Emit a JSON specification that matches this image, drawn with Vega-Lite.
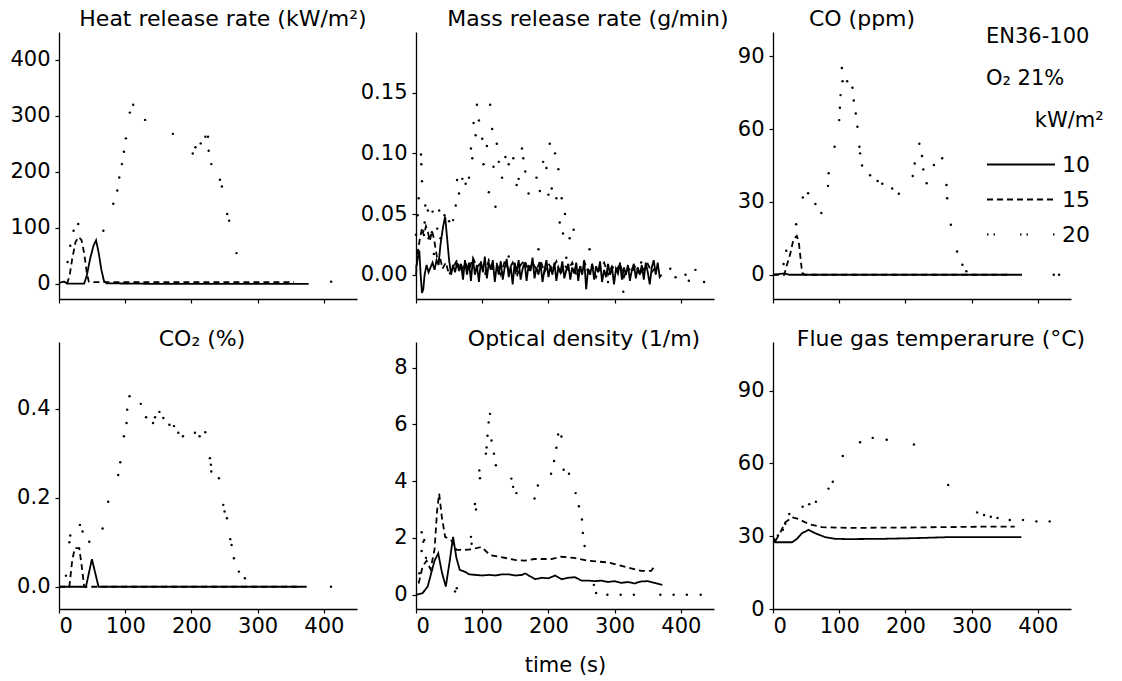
{
"$schema":"https://vega.github.io/schema/vega-lite/v6.json",
"background":"white",
"padding":{"left":9,"top":8,"right":0,"bottom":0},
"bounds":"flush",
"columns":3,
"spacing":{"row":43,"column":59},
"resolve":{"scale":{"x":"independent","y":"independent","strokeDash":"shared"}},
"data":{"values":[
{"p":"hrr","s":"10","t":0,"v":2},{"p":"hrr","s":"10","t":8,"v":4},{"p":"hrr","s":"10","t":12,"v":0.5},{"p":"hrr","s":"10","t":38,"v":0.5},{"p":"hrr","s":"10","t":42,"v":15},{"p":"hrr","s":"10","t":47,"v":45},{"p":"hrr","s":"10","t":52,"v":68},{"p":"hrr","s":"10","t":56,"v":78},{"p":"hrr","s":"10","t":60,"v":55},{"p":"hrr","s":"10","t":64,"v":25},{"p":"hrr","s":"10","t":68,"v":5},{"p":"hrr","s":"10","t":72,"v":1},{"p":"hrr","s":"10","t":150,"v":0},{"p":"hrr","s":"10","t":250,"v":0},{"p":"hrr","s":"10","t":377,"v":0},
{"p":"hrr","s":"15","t":12,"v":0},{"p":"hrr","s":"15","t":16,"v":15},{"p":"hrr","s":"15","t":20,"v":45},{"p":"hrr","s":"15","t":25,"v":75},{"p":"hrr","s":"15","t":30,"v":84},{"p":"hrr","s":"15","t":34,"v":78},{"p":"hrr","s":"15","t":38,"v":55},{"p":"hrr","s":"15","t":42,"v":20},{"p":"hrr","s":"15","t":45,"v":4},{"p":"hrr","s":"15","t":48,"v":3},{"p":"hrr","s":"15","t":150,"v":3},{"p":"hrr","s":"15","t":250,"v":3},{"p":"hrr","s":"15","t":355,"v":3},
{"p":"hrr","s":"20","t":13,"v":39},{"p":"hrr","s":"20","t":17,"v":68},{"p":"hrr","s":"20","t":22,"v":95},{"p":"hrr","s":"20","t":29,"v":107},{"p":"hrr","s":"20","t":67,"v":95},{"p":"hrr","s":"20","t":82,"v":143},{"p":"hrr","s":"20","t":88,"v":167},{"p":"hrr","s":"20","t":91,"v":190},{"p":"hrr","s":"20","t":95,"v":214},{"p":"hrr","s":"20","t":98,"v":236},{"p":"hrr","s":"20","t":101,"v":260},{"p":"hrr","s":"20","t":107,"v":306},{"p":"hrr","s":"20","t":112,"v":320},{"p":"hrr","s":"20","t":130,"v":293},{"p":"hrr","s":"20","t":172,"v":268},{"p":"hrr","s":"20","t":202,"v":233},{"p":"hrr","s":"20","t":206,"v":244},{"p":"hrr","s":"20","t":214,"v":251},{"p":"hrr","s":"20","t":221,"v":263},{"p":"hrr","s":"20","t":225,"v":263},{"p":"hrr","s":"20","t":226,"v":238},{"p":"hrr","s":"20","t":230,"v":214},{"p":"hrr","s":"20","t":243,"v":186},{"p":"hrr","s":"20","t":246,"v":174},{"p":"hrr","s":"20","t":254,"v":125},{"p":"hrr","s":"20","t":257,"v":113},{"p":"hrr","s":"20","t":268,"v":55},{"p":"hrr","s":"20","t":411,"v":4},

{"p":"mrr","s":"10","t":0,"v":0.005},{"p":"mrr","s":"10","t":3,"v":0.015},{"p":"mrr","s":"10","t":5,"v":0.02},{"p":"mrr","s":"10","t":7,"v":0.0},{"p":"mrr","s":"10","t":9,"v":-0.015},{"p":"mrr","s":"10","t":11,"v":-0.012},{"p":"mrr","s":"10","t":13,"v":0.0},{"p":"mrr","s":"10","t":16,"v":0.008},{"p":"mrr","s":"10","t":19,"v":0.002},{"p":"mrr","s":"10","t":22,"v":0.006},{"p":"mrr","s":"10","t":25,"v":0.01},{"p":"mrr","s":"10","t":28,"v":0.004},{"p":"mrr","s":"10","t":31,"v":0.012},{"p":"mrr","s":"10","t":34,"v":0.008},{"p":"mrr","s":"10","t":37,"v":0.025},{"p":"mrr","s":"10","t":41,"v":0.04},{"p":"mrr","s":"10","t":44,"v":0.048},{"p":"mrr","s":"10","t":47,"v":0.03},{"p":"mrr","s":"10","t":50,"v":0.012},{"p":"mrr","s":"10","t":53,"v":0.0},{"p":"mrr","s":"10","t":56,"v":0.008},{"p":"mrr","s":"10","t":59,"v":0.002},{"p":"mrr","s":"10","t":62,"v":0.01},{"p":"mrr","s":"10","t":65,"v":0.003},{"p":"mrr","s":"10","t":68,"v":0.009},{"p":"mrr","s":"10","t":71,"v":-0.004},{"p":"mrr","s":"10","t":74,"v":0.012},{"p":"mrr","s":"10","t":77,"v":0.0},{"p":"mrr","s":"10","t":80,"v":0.01},{"p":"mrr","s":"10","t":83,"v":-0.005},{"p":"mrr","s":"10","t":86,"v":0.013},{"p":"mrr","s":"10","t":89,"v":0.0},{"p":"mrr","s":"10","t":92,"v":0.008},{"p":"mrr","s":"10","t":95,"v":-0.006},{"p":"mrr","s":"10","t":98,"v":0.011},{"p":"mrr","s":"10","t":101,"v":0.002},{"p":"mrr","s":"10","t":104,"v":0.015},{"p":"mrr","s":"10","t":107,"v":-0.003},{"p":"mrr","s":"10","t":110,"v":0.01},{"p":"mrr","s":"10","t":113,"v":0.004},{"p":"mrr","s":"10","t":116,"v":0.012},{"p":"mrr","s":"10","t":119,"v":-0.006},{"p":"mrr","s":"10","t":122,"v":0.008},{"p":"mrr","s":"10","t":125,"v":0.0},{"p":"mrr","s":"10","t":128,"v":0.011},{"p":"mrr","s":"10","t":131,"v":-0.004},{"p":"mrr","s":"10","t":134,"v":0.006},{"p":"mrr","s":"10","t":137,"v":0.013},{"p":"mrr","s":"10","t":140,"v":-0.002},{"p":"mrr","s":"10","t":143,"v":0.007},{"p":"mrr","s":"10","t":146,"v":-0.008},{"p":"mrr","s":"10","t":149,"v":0.01},{"p":"mrr","s":"10","t":152,"v":0.002},{"p":"mrr","s":"10","t":155,"v":0.012},{"p":"mrr","s":"10","t":158,"v":-0.004},{"p":"mrr","s":"10","t":161,"v":0.005},{"p":"mrr","s":"10","t":164,"v":0.01},{"p":"mrr","s":"10","t":167,"v":-0.005},{"p":"mrr","s":"10","t":170,"v":0.008},{"p":"mrr","s":"10","t":173,"v":0.003},{"p":"mrr","s":"10","t":176,"v":0.014},{"p":"mrr","s":"10","t":179,"v":-0.003},{"p":"mrr","s":"10","t":182,"v":0.006},{"p":"mrr","s":"10","t":185,"v":0.0},{"p":"mrr","s":"10","t":188,"v":0.01},{"p":"mrr","s":"10","t":191,"v":-0.006},{"p":"mrr","s":"10","t":194,"v":0.004},{"p":"mrr","s":"10","t":197,"v":0.012},{"p":"mrr","s":"10","t":200,"v":-0.002},{"p":"mrr","s":"10","t":203,"v":0.007},{"p":"mrr","s":"10","t":206,"v":0.0},{"p":"mrr","s":"10","t":209,"v":0.01},{"p":"mrr","s":"10","t":212,"v":-0.005},{"p":"mrr","s":"10","t":215,"v":0.006},{"p":"mrr","s":"10","t":218,"v":0.002},{"p":"mrr","s":"10","t":221,"v":0.011},{"p":"mrr","s":"10","t":224,"v":-0.003},{"p":"mrr","s":"10","t":227,"v":0.004},{"p":"mrr","s":"10","t":230,"v":0.009},{"p":"mrr","s":"10","t":233,"v":-0.004},{"p":"mrr","s":"10","t":236,"v":0.006},{"p":"mrr","s":"10","t":239,"v":0.001},{"p":"mrr","s":"10","t":242,"v":0.01},{"p":"mrr","s":"10","t":245,"v":-0.005},{"p":"mrr","s":"10","t":248,"v":0.007},{"p":"mrr","s":"10","t":251,"v":0.0},{"p":"mrr","s":"10","t":254,"v":0.012},{"p":"mrr","s":"10","t":257,"v":-0.012},{"p":"mrr","s":"10","t":260,"v":0.005},{"p":"mrr","s":"10","t":263,"v":0.0},{"p":"mrr","s":"10","t":266,"v":0.009},{"p":"mrr","s":"10","t":269,"v":-0.004},{"p":"mrr","s":"10","t":272,"v":0.007},{"p":"mrr","s":"10","t":275,"v":0.002},{"p":"mrr","s":"10","t":278,"v":0.011},{"p":"mrr","s":"10","t":281,"v":-0.006},{"p":"mrr","s":"10","t":284,"v":0.004},{"p":"mrr","s":"10","t":287,"v":-0.002},{"p":"mrr","s":"10","t":290,"v":0.009},{"p":"mrr","s":"10","t":293,"v":0.0},{"p":"mrr","s":"10","t":296,"v":0.006},{"p":"mrr","s":"10","t":299,"v":-0.008},{"p":"mrr","s":"10","t":302,"v":0.005},{"p":"mrr","s":"10","t":305,"v":0.001},{"p":"mrr","s":"10","t":308,"v":0.01},{"p":"mrr","s":"10","t":311,"v":-0.004},{"p":"mrr","s":"10","t":314,"v":0.006},{"p":"mrr","s":"10","t":317,"v":0.0},{"p":"mrr","s":"10","t":320,"v":0.008},{"p":"mrr","s":"10","t":323,"v":-0.005},{"p":"mrr","s":"10","t":326,"v":0.004},{"p":"mrr","s":"10","t":329,"v":0.009},{"p":"mrr","s":"10","t":332,"v":-0.003},{"p":"mrr","s":"10","t":335,"v":0.006},{"p":"mrr","s":"10","t":338,"v":0.0},{"p":"mrr","s":"10","t":341,"v":0.008},{"p":"mrr","s":"10","t":344,"v":-0.004},{"p":"mrr","s":"10","t":347,"v":0.01},{"p":"mrr","s":"10","t":350,"v":0.002},{"p":"mrr","s":"10","t":353,"v":-0.008},{"p":"mrr","s":"10","t":356,"v":0.006},{"p":"mrr","s":"10","t":359,"v":0.012},{"p":"mrr","s":"10","t":362,"v":0.0},{"p":"mrr","s":"10","t":365,"v":0.01},{"p":"mrr","s":"10","t":368,"v":-0.002},{"p":"mrr","s":"10","t":371,"v":0.0},
{"p":"mrr","s":"15","t":0,"v":0.0},{"p":"mrr","s":"15","t":3,"v":0.02},{"p":"mrr","s":"15","t":6,"v":0.03},{"p":"mrr","s":"15","t":9,"v":0.038},{"p":"mrr","s":"15","t":12,"v":0.032},{"p":"mrr","s":"15","t":15,"v":0.04},{"p":"mrr","s":"15","t":18,"v":0.035},{"p":"mrr","s":"15","t":21,"v":0.028},{"p":"mrr","s":"15","t":24,"v":0.036},{"p":"mrr","s":"15","t":27,"v":0.03},{"p":"mrr","s":"15","t":30,"v":0.02},{"p":"mrr","s":"15","t":33,"v":0.01},{"p":"mrr","s":"15","t":36,"v":0.015},{"p":"mrr","s":"15","t":40,"v":0.005},{"p":"mrr","s":"15","t":45,"v":0.01},{"p":"mrr","s":"15","t":50,"v":0.0},{"p":"mrr","s":"15","t":56,"v":0.006},{"p":"mrr","s":"15","t":62,"v":0.012},{"p":"mrr","s":"15","t":68,"v":0.002},{"p":"mrr","s":"15","t":74,"v":0.01},{"p":"mrr","s":"15","t":80,"v":0.004},{"p":"mrr","s":"15","t":86,"v":0.014},{"p":"mrr","s":"15","t":92,"v":0.006},{"p":"mrr","s":"15","t":98,"v":0.01},{"p":"mrr","s":"15","t":104,"v":0.0},{"p":"mrr","s":"15","t":110,"v":0.012},{"p":"mrr","s":"15","t":116,"v":0.005},{"p":"mrr","s":"15","t":122,"v":0.009},{"p":"mrr","s":"15","t":128,"v":0.0},{"p":"mrr","s":"15","t":134,"v":0.011},{"p":"mrr","s":"15","t":140,"v":0.004},{"p":"mrr","s":"15","t":146,"v":0.01},{"p":"mrr","s":"15","t":152,"v":-0.002},{"p":"mrr","s":"15","t":158,"v":0.008},{"p":"mrr","s":"15","t":164,"v":0.012},{"p":"mrr","s":"15","t":170,"v":0.003},{"p":"mrr","s":"15","t":176,"v":0.01},{"p":"mrr","s":"15","t":182,"v":0.004},{"p":"mrr","s":"15","t":188,"v":0.012},{"p":"mrr","s":"15","t":194,"v":0.002},{"p":"mrr","s":"15","t":200,"v":0.009},{"p":"mrr","s":"15","t":206,"v":0.005},{"p":"mrr","s":"15","t":212,"v":0.011},{"p":"mrr","s":"15","t":218,"v":0.0},{"p":"mrr","s":"15","t":224,"v":0.008},{"p":"mrr","s":"15","t":230,"v":0.004},{"p":"mrr","s":"15","t":236,"v":0.01},{"p":"mrr","s":"15","t":242,"v":0.0},{"p":"mrr","s":"15","t":248,"v":0.006},{"p":"mrr","s":"15","t":254,"v":0.011},{"p":"mrr","s":"15","t":260,"v":0.002},{"p":"mrr","s":"15","t":266,"v":0.008},{"p":"mrr","s":"15","t":272,"v":-0.002},{"p":"mrr","s":"15","t":278,"v":0.006},{"p":"mrr","s":"15","t":284,"v":0.01},{"p":"mrr","s":"15","t":290,"v":0.0},{"p":"mrr","s":"15","t":296,"v":0.007},{"p":"mrr","s":"15","t":302,"v":0.003},{"p":"mrr","s":"15","t":308,"v":0.009},{"p":"mrr","s":"15","t":314,"v":-0.002},{"p":"mrr","s":"15","t":320,"v":0.006},{"p":"mrr","s":"15","t":326,"v":0.002},{"p":"mrr","s":"15","t":332,"v":0.008},{"p":"mrr","s":"15","t":338,"v":0.0},{"p":"mrr","s":"15","t":344,"v":0.005},{"p":"mrr","s":"15","t":350,"v":0.009},{"p":"mrr","s":"15","t":356,"v":0.002},{"p":"mrr","s":"15","t":360,"v":0.005},
{"p":"mrr","s":"20","t":0,"v":0.033},{"p":"mrr","s":"20","t":2.5,"v":0.049},{"p":"mrr","s":"20","t":4,"v":0.063},{"p":"mrr","s":"20","t":7.5,"v":0.099},{"p":"mrr","s":"20","t":8,"v":0.091},{"p":"mrr","s":"20","t":9,"v":0.077},{"p":"mrr","s":"20","t":11,"v":0.036},{"p":"mrr","s":"20","t":13,"v":0.043},{"p":"mrr","s":"20","t":14,"v":0.057},{"p":"mrr","s":"20","t":18,"v":0.053},{"p":"mrr","s":"20","t":19,"v":0.03},{"p":"mrr","s":"20","t":24,"v":0.035},{"p":"mrr","s":"20","t":25,"v":0.052},{"p":"mrr","s":"20","t":27,"v":0.017},{"p":"mrr","s":"20","t":32,"v":0.038},{"p":"mrr","s":"20","t":34,"v":0.01},{"p":"mrr","s":"20","t":35,"v":0.053},{"p":"mrr","s":"20","t":37,"v":0.03},{"p":"mrr","s":"20","t":43,"v":0.049},{"p":"mrr","s":"20","t":50,"v":0.044},{"p":"mrr","s":"20","t":56,"v":0.045},{"p":"mrr","s":"20","t":60,"v":0.057},{"p":"mrr","s":"20","t":62,"v":0.078},{"p":"mrr","s":"20","t":65,"v":0.067},{"p":"mrr","s":"20","t":70,"v":0.079},{"p":"mrr","s":"20","t":75,"v":0.075},{"p":"mrr","s":"20","t":80,"v":0.08},{"p":"mrr","s":"20","t":83,"v":0.104},{"p":"mrr","s":"20","t":85,"v":0.096},{"p":"mrr","s":"20","t":87,"v":0.125},{"p":"mrr","s":"20","t":90,"v":0.115},{"p":"mrr","s":"20","t":92,"v":0.14},{"p":"mrr","s":"20","t":95,"v":0.127},{"p":"mrr","s":"20","t":100,"v":0.112},{"p":"mrr","s":"20","t":102,"v":0.091},{"p":"mrr","s":"20","t":107,"v":0.106},{"p":"mrr","s":"20","t":110,"v":0.068},{"p":"mrr","s":"20","t":112,"v":0.14},{"p":"mrr","s":"20","t":115,"v":0.12},{"p":"mrr","s":"20","t":117,"v":0.089},{"p":"mrr","s":"20","t":120,"v":0.056},{"p":"mrr","s":"20","t":122,"v":0.108},{"p":"mrr","s":"20","t":125,"v":0.093},{"p":"mrr","s":"20","t":130,"v":0.08},{"p":"mrr","s":"20","t":135,"v":0.097},{"p":"mrr","s":"20","t":140,"v":0.091},{"p":"mrr","s":"20","t":147,"v":0.096},{"p":"mrr","s":"20","t":152,"v":0.074},{"p":"mrr","s":"20","t":155,"v":0.079},{"p":"mrr","s":"20","t":160,"v":0.104},{"p":"mrr","s":"20","t":162,"v":0.096},{"p":"mrr","s":"20","t":165,"v":0.085},{"p":"mrr","s":"20","t":170,"v":0.067},{"p":"mrr","s":"20","t":182,"v":0.08},{"p":"mrr","s":"20","t":187,"v":0.069},{"p":"mrr","s":"20","t":192,"v":0.093},{"p":"mrr","s":"20","t":197,"v":0.088},{"p":"mrr","s":"20","t":200,"v":0.066},{"p":"mrr","s":"20","t":202,"v":0.108},{"p":"mrr","s":"20","t":205,"v":0.071},{"p":"mrr","s":"20","t":210,"v":0.1},{"p":"mrr","s":"20","t":212,"v":0.063},{"p":"mrr","s":"20","t":215,"v":0.087},{"p":"mrr","s":"20","t":217,"v":0.043},{"p":"mrr","s":"20","t":220,"v":0.063},{"p":"mrr","s":"20","t":222,"v":0.034},{"p":"mrr","s":"20","t":225,"v":0.05},{"p":"mrr","s":"20","t":232,"v":0.03},{"p":"mrr","s":"20","t":238,"v":0.037},{"p":"mrr","s":"20","t":185,"v":0.021},{"p":"mrr","s":"20","t":262,"v":0.021},{"p":"mrr","s":"20","t":313,"v":-0.014},{"p":"mrr","s":"20","t":227,"v":0.014},{"p":"mrr","s":"20","t":384,"v":0.005},{"p":"mrr","s":"20","t":392,"v":-0.002},{"p":"mrr","s":"20","t":407,"v":0.0},{"p":"mrr","s":"20","t":412,"v":-0.005},{"p":"mrr","s":"20","t":422,"v":0.004},{"p":"mrr","s":"20","t":435,"v":-0.006},{"p":"mrr","s":"20","t":140,"v":0.015},{"p":"mrr","s":"20","t":290,"v":-0.006},{"p":"mrr","s":"20","t":340,"v":0.01},

{"p":"co","s":"10","t":0,"v":0},{"p":"co","s":"10","t":16,"v":0.5},{"p":"co","s":"10","t":25,"v":0},{"p":"co","s":"10","t":376,"v":0},
{"p":"co","s":"15","t":0,"v":0},{"p":"co","s":"15","t":17,"v":0},{"p":"co","s":"15","t":21,"v":4},{"p":"co","s":"15","t":26,"v":8.5},{"p":"co","s":"15","t":31,"v":14.7},{"p":"co","s":"15","t":36,"v":16},{"p":"co","s":"15","t":39,"v":13.3},{"p":"co","s":"15","t":44,"v":0.8},{"p":"co","s":"15","t":48,"v":0},{"p":"co","s":"15","t":360,"v":0},
{"p":"co","s":"20","t":16,"v":4.4},{"p":"co","s":"20","t":20,"v":9.9},{"p":"co","s":"20","t":35,"v":20.8},{"p":"co","s":"20","t":45,"v":31.8},{"p":"co","s":"20","t":53,"v":33.6},{"p":"co","s":"20","t":64,"v":29.1},{"p":"co","s":"20","t":73,"v":25.4},{"p":"co","s":"20","t":83,"v":36.6},{"p":"co","s":"20","t":84,"v":41.8},{"p":"co","s":"20","t":93,"v":52.7},{"p":"co","s":"20","t":100,"v":63.7},{"p":"co","s":"20","t":101,"v":68.8},{"p":"co","s":"20","t":102,"v":74},{"p":"co","s":"20","t":104,"v":85.2},{"p":"co","s":"20","t":105,"v":79.7},{"p":"co","s":"20","t":112,"v":79.7},{"p":"co","s":"20","t":120,"v":77},{"p":"co","s":"20","t":122,"v":71.8},{"p":"co","s":"20","t":125,"v":66.4},{"p":"co","s":"20","t":127.5,"v":61},{"p":"co","s":"20","t":130.5,"v":52.7},{"p":"co","s":"20","t":131.5,"v":50},{"p":"co","s":"20","t":134.5,"v":45},{"p":"co","s":"20","t":146.6,"v":41},{"p":"co","s":"20","t":158,"v":38.6},{"p":"co","s":"20","t":165,"v":37.5},{"p":"co","s":"20","t":180,"v":35.5},{"p":"co","s":"20","t":190,"v":33.4},{"p":"co","s":"20","t":211,"v":40.7},{"p":"co","s":"20","t":214,"v":45.8},{"p":"co","s":"20","t":221,"v":54},{"p":"co","s":"20","t":225,"v":48.9},{"p":"co","s":"20","t":227,"v":43.4},{"p":"co","s":"20","t":232,"v":37.7},{"p":"co","s":"20","t":243,"v":45.2},{"p":"co","s":"20","t":255.5,"v":48},{"p":"co","s":"20","t":262,"v":37},{"p":"co","s":"20","t":263,"v":31.5},{"p":"co","s":"20","t":268.6,"v":20.6},{"p":"co","s":"20","t":278,"v":9.6},{"p":"co","s":"20","t":286,"v":4.1},{"p":"co","s":"20","t":292,"v":1.4},{"p":"co","s":"20","t":424,"v":0},{"p":"co","s":"20","t":432,"v":0},

{"p":"co2","s":"10","t":0,"v":0},{"p":"co2","s":"10","t":40.7,"v":0},{"p":"co2","s":"10","t":49.7,"v":0.062},{"p":"co2","s":"10","t":59.7,"v":0},{"p":"co2","s":"10","t":374,"v":0},
{"p":"co2","s":"15","t":0,"v":0},{"p":"co2","s":"15","t":15.6,"v":0},{"p":"co2","s":"15","t":20,"v":0.06},{"p":"co2","s":"15","t":24,"v":0.087},{"p":"co2","s":"15","t":30.6,"v":0.087},{"p":"co2","s":"15","t":34,"v":0.05},{"p":"co2","s":"15","t":38,"v":0},{"p":"co2","s":"15","t":360,"v":0},
{"p":"co2","s":"20","t":10.5,"v":0.025},{"p":"co2","s":"20","t":15.6,"v":0.1},{"p":"co2","s":"20","t":17,"v":0.115},{"p":"co2","s":"20","t":31.6,"v":0.139},{"p":"co2","s":"20","t":35.6,"v":0.124},{"p":"co2","s":"20","t":45.7,"v":0.101},{"p":"co2","s":"20","t":65.8,"v":0.131},{"p":"co2","s":"20","t":74.3,"v":0.191},{"p":"co2","s":"20","t":89.4,"v":0.251},{"p":"co2","s":"20","t":92.5,"v":0.28},{"p":"co2","s":"20","t":98,"v":0.338},{"p":"co2","s":"20","t":102,"v":0.368},{"p":"co2","s":"20","t":103,"v":0.398},{"p":"co2","s":"20","t":106.5,"v":0.428},{"p":"co2","s":"20","t":123.5,"v":0.411},{"p":"co2","s":"20","t":131.5,"v":0.381},{"p":"co2","s":"20","t":142,"v":0.368},{"p":"co2","s":"20","t":145,"v":0.381},{"p":"co2","s":"20","t":151.6,"v":0.393},{"p":"co2","s":"20","t":157.6,"v":0.379},{"p":"co2","s":"20","t":166.7,"v":0.364},{"p":"co2","s":"20","t":173.7,"v":0.361},{"p":"co2","s":"20","t":180.2,"v":0.346},{"p":"co2","s":"20","t":187.2,"v":0.338},{"p":"co2","s":"20","t":205.3,"v":0.346},{"p":"co2","s":"20","t":212.3,"v":0.338},{"p":"co2","s":"20","t":220.9,"v":0.347},{"p":"co2","s":"20","t":227.9,"v":0.289},{"p":"co2","s":"20","t":229.4,"v":0.274},{"p":"co2","s":"20","t":230,"v":0.259},{"p":"co2","s":"20","t":241.5,"v":0.244},{"p":"co2","s":"20","t":248,"v":0.184},{"p":"co2","s":"20","t":250,"v":0.169},{"p":"co2","s":"20","t":253.6,"v":0.154},{"p":"co2","s":"20","t":258.6,"v":0.107},{"p":"co2","s":"20","t":260.6,"v":0.094},{"p":"co2","s":"20","t":264.1,"v":0.064},{"p":"co2","s":"20","t":271.7,"v":0.034},{"p":"co2","s":"20","t":280.7,"v":0.019},{"p":"co2","s":"20","t":410.7,"v":0},

{"p":"od","s":"10","t":0,"v":0},{"p":"od","s":"10","t":10,"v":0.06},{"p":"od","s":"10","t":17.6,"v":0.29},{"p":"od","s":"10","t":21.6,"v":0.64},{"p":"od","s":"10","t":28,"v":1.2},{"p":"od","s":"10","t":33.6,"v":1.46},{"p":"od","s":"10","t":39,"v":0.8},{"p":"od","s":"10","t":45,"v":0.29},{"p":"od","s":"10","t":51,"v":1.2},{"p":"od","s":"10","t":56,"v":2.04},{"p":"od","s":"10","t":61,"v":1.3},{"p":"od","s":"10","t":66,"v":0.88},{"p":"od","s":"10","t":75,"v":0.8},{"p":"od","s":"10","t":80,"v":0.72},{"p":"od","s":"10","t":90,"v":0.7},{"p":"od","s":"10","t":100,"v":0.68},{"p":"od","s":"10","t":110,"v":0.7},{"p":"od","s":"10","t":120,"v":0.68},{"p":"od","s":"10","t":130,"v":0.72},{"p":"od","s":"10","t":140,"v":0.72},{"p":"od","s":"10","t":150,"v":0.68},{"p":"od","s":"10","t":160,"v":0.7},{"p":"od","s":"10","t":165,"v":0.75},{"p":"od","s":"10","t":170,"v":0.68},{"p":"od","s":"10","t":180,"v":0.55},{"p":"od","s":"10","t":190,"v":0.6},{"p":"od","s":"10","t":200,"v":0.58},{"p":"od","s":"10","t":210,"v":0.68},{"p":"od","s":"10","t":220,"v":0.55},{"p":"od","s":"10","t":230,"v":0.6},{"p":"od","s":"10","t":240,"v":0.62},{"p":"od","s":"10","t":250,"v":0.5},{"p":"od","s":"10","t":260,"v":0.5},{"p":"od","s":"10","t":270,"v":0.48},{"p":"od","s":"10","t":280,"v":0.5},{"p":"od","s":"10","t":290,"v":0.45},{"p":"od","s":"10","t":300,"v":0.48},{"p":"od","s":"10","t":310,"v":0.42},{"p":"od","s":"10","t":320,"v":0.45},{"p":"od","s":"10","t":330,"v":0.4},{"p":"od","s":"10","t":340,"v":0.47},{"p":"od","s":"10","t":350,"v":0.48},{"p":"od","s":"10","t":360,"v":0.42},{"p":"od","s":"10","t":372,"v":0.35},
{"p":"od","s":"15","t":4,"v":0.4},{"p":"od","s":"15","t":10,"v":1.0},{"p":"od","s":"15","t":16,"v":1.2},{"p":"od","s":"15","t":22,"v":0.9},{"p":"od","s":"15","t":28,"v":1.6},{"p":"od","s":"15","t":32,"v":3.0},{"p":"od","s":"15","t":35,"v":3.56},{"p":"od","s":"15","t":39,"v":2.74},{"p":"od","s":"15","t":44,"v":2.04},{"p":"od","s":"15","t":54,"v":1.9},{"p":"od","s":"15","t":61.5,"v":1.58},{"p":"od","s":"15","t":71.5,"v":1.58},{"p":"od","s":"15","t":84,"v":1.6},{"p":"od","s":"15","t":99,"v":1.69},{"p":"od","s":"15","t":111.5,"v":1.4},{"p":"od","s":"15","t":126.6,"v":1.34},{"p":"od","s":"15","t":149,"v":1.23},{"p":"od","s":"15","t":164,"v":1.2},{"p":"od","s":"15","t":179,"v":1.26},{"p":"od","s":"15","t":204,"v":1.26},{"p":"od","s":"15","t":219,"v":1.34},{"p":"od","s":"15","t":239,"v":1.3},{"p":"od","s":"15","t":259,"v":1.2},{"p":"od","s":"15","t":290,"v":1.14},{"p":"od","s":"15","t":320,"v":0.96},{"p":"od","s":"15","t":340,"v":0.84},{"p":"od","s":"15","t":355,"v":0.84},{"p":"od","s":"15","t":360,"v":1.0},
{"p":"od","s":"20","t":5,"v":0.76},{"p":"od","s":"20","t":8.5,"v":2.2},{"p":"od","s":"20","t":8.5,"v":1.54},{"p":"od","s":"20","t":11,"v":1.87},{"p":"od","s":"20","t":12.5,"v":1.93},{"p":"od","s":"20","t":15,"v":1.3},{"p":"od","s":"20","t":59,"v":0.12},{"p":"od","s":"20","t":61.6,"v":0.23},{"p":"od","s":"20","t":83,"v":2.04},{"p":"od","s":"20","t":84,"v":1.8},{"p":"od","s":"20","t":89,"v":3.2},{"p":"od","s":"20","t":90.6,"v":3.0},{"p":"od","s":"20","t":95.6,"v":4.38},{"p":"od","s":"20","t":96.6,"v":4.1},{"p":"od","s":"20","t":105.5,"v":4.97},{"p":"od","s":"20","t":106.6,"v":5.19},{"p":"od","s":"20","t":108,"v":5.6},{"p":"od","s":"20","t":109.7,"v":6.07},{"p":"od","s":"20","t":111.7,"v":6.37},{"p":"od","s":"20","t":114,"v":5.43},{"p":"od","s":"20","t":117.7,"v":4.97},{"p":"od","s":"20","t":120.6,"v":4.56},{"p":"od","s":"20","t":144,"v":4.09},{"p":"od","s":"20","t":146.6,"v":3.8},{"p":"od","s":"20","t":151.6,"v":3.58},{"p":"od","s":"20","t":179,"v":3.39},{"p":"od","s":"20","t":184,"v":3.85},{"p":"od","s":"20","t":204,"v":4.26},{"p":"od","s":"20","t":208.5,"v":4.71},{"p":"od","s":"20","t":212,"v":5.18},{"p":"od","s":"20","t":214.6,"v":5.64},{"p":"od","s":"20","t":219.6,"v":5.57},{"p":"od","s":"20","t":223,"v":4.4},{"p":"od","s":"20","t":231,"v":4.26},{"p":"od","s":"20","t":241,"v":3.58},{"p":"od","s":"20","t":246,"v":3.12},{"p":"od","s":"20","t":250.6,"v":2.65},{"p":"od","s":"20","t":252,"v":2.18},{"p":"od","s":"20","t":254.6,"v":1.72},{"p":"od","s":"20","t":268.6,"v":0.35},{"p":"od","s":"20","t":272,"v":0.06},{"p":"od","s":"20","t":289,"v":0},{"p":"od","s":"20","t":309,"v":0},{"p":"od","s":"20","t":329,"v":0},{"p":"od","s":"20","t":369,"v":0},{"p":"od","s":"20","t":389,"v":0},{"p":"od","s":"20","t":409,"v":0},{"p":"od","s":"20","t":430,"v":0},

{"p":"fg","s":"10","t":1,"v":27.3},{"p":"fg","s":"10","t":2.5,"v":28.5},{"p":"fg","s":"10","t":4,"v":27.5},{"p":"fg","s":"10","t":28.6,"v":27.5},{"p":"fg","s":"10","t":36,"v":28.8},{"p":"fg","s":"10","t":43.7,"v":31.2},{"p":"fg","s":"10","t":53.7,"v":32.6},{"p":"fg","s":"10","t":63.8,"v":31.2},{"p":"fg","s":"10","t":78.8,"v":29.6},{"p":"fg","s":"10","t":93.9,"v":28.9},{"p":"fg","s":"10","t":114,"v":28.8},{"p":"fg","s":"10","t":164,"v":28.9},{"p":"fg","s":"10","t":214.4,"v":29.2},{"p":"fg","s":"10","t":264.6,"v":29.6},{"p":"fg","s":"10","t":314.8,"v":29.6},{"p":"fg","s":"10","t":375,"v":29.6},
{"p":"fg","s":"15","t":3.5,"v":28},{"p":"fg","s":"15","t":11,"v":31.5},{"p":"fg","s":"15","t":18.6,"v":35.7},{"p":"fg","s":"15","t":28.6,"v":37.8},{"p":"fg","s":"15","t":38.6,"v":37.1},{"p":"fg","s":"15","t":53.7,"v":35},{"p":"fg","s":"15","t":73.8,"v":33.7},{"p":"fg","s":"15","t":114,"v":33.4},{"p":"fg","s":"15","t":214.4,"v":33.6},{"p":"fg","s":"15","t":315,"v":33.9},{"p":"fg","s":"15","t":365,"v":33.9},
{"p":"fg","s":"20","t":7.5,"v":30.3},{"p":"fg","s":"20","t":15,"v":32.6},{"p":"fg","s":"20","t":18.6,"v":35.1},{"p":"fg","s":"20","t":24.6,"v":39.1},{"p":"fg","s":"20","t":44.7,"v":42.1},{"p":"fg","s":"20","t":54.7,"v":43.2},{"p":"fg","s":"20","t":64.8,"v":44.2},{"p":"fg","s":"20","t":83.8,"v":49.6},{"p":"fg","s":"20","t":90.3,"v":52.4},{"p":"fg","s":"20","t":105.4,"v":63},{"p":"fg","s":"20","t":131.5,"v":68.7},{"p":"fg","s":"20","t":150.6,"v":70.5},{"p":"fg","s":"20","t":171.7,"v":69.7},{"p":"fg","s":"20","t":212.8,"v":67.8},{"p":"fg","s":"20","t":264.6,"v":51.1},{"p":"fg","s":"20","t":308.3,"v":39.8},{"p":"fg","s":"20","t":318.8,"v":38.7},{"p":"fg","s":"20","t":328.9,"v":38},{"p":"fg","s":"20","t":339,"v":37.5},{"p":"fg","s":"20","t":357.5,"v":36.7},{"p":"fg","s":"20","t":377.6,"v":36.7},{"p":"fg","s":"20","t":397.7,"v":36.1},{"p":"fg","s":"20","t":417.8,"v":36.1}
]},
"concat":[
{"width":298,"height":267,"title":{"text":"Heat release rate (kW/m\u00b2)","dx":15,"offset":1},
 "transform":[{"filter":"datum.p=='hrr'"}],
 "encoding":{"x":{"field":"t","type":"quantitative","scale":{"domain":[0,450],"nice":false},"axis":{"values":[0,100,200,300,400],"labels":false,"title":null}},
  "y":{"field":"v","type":"quantitative","scale":{"domain":[-27,450],"nice":false,"zero":false},"axis":{"values":[0,100,200,300,400],"title":null}}},
 "layer":[
  {"transform":[{"filter":"datum.s!='20'"}],"mark":{"type":"line","color":"black","strokeWidth":1.8},
   "encoding":{"detail":{"field":"s"},"strokeDash":{"field":"s","type":"nominal","scale":{"domain":["10","15","20"],"range":[[1,0],[6,4],[1.5,5,1.5,25]]},
    "legend":{"title":["EN36-100","O\u2082 21%","\u2800\u00a0\u00a0\u00a0\u00a0\u00a0kW/m\u00b2"],"orient":"none","legendX":927,"legendY":-6}}}},
  {"transform":[{"filter":"datum.s=='20'"}],"mark":{"type":"point","filled":true,"color":"black","size":6,"opacity":1}}
 ]},
{"width":298,"height":267,"title":{"text":"Mass release rate (g/min)","dx":23,"offset":1},
 "transform":[{"filter":"datum.p=='mrr'"}],
 "encoding":{"x":{"field":"t","type":"quantitative","scale":{"domain":[0,450],"nice":false},"axis":{"values":[0,100,200,300,400],"labels":false,"title":null}},
  "y":{"field":"v","type":"quantitative","scale":{"domain":[-0.02,0.2],"nice":false,"zero":false},"axis":{"values":[0,0.05,0.1,0.15],"format":".2f","title":null}}},
 "layer":[
  {"transform":[{"filter":"datum.s!='20'"}],"mark":{"type":"line","color":"black","strokeWidth":1.8},
   "encoding":{"detail":{"field":"s"},"strokeDash":{"field":"s","type":"nominal","scale":{"domain":["10","15","20"],"range":[[1,0],[6,4],[1.5,5,1.5,25]]}}}},
  {"transform":[{"filter":"datum.s=='20'"}],"mark":{"type":"point","filled":true,"color":"black","size":6,"opacity":1}}
 ]},
{"width":298,"height":267,"title":{"text":"CO (ppm)","dx":-60,"offset":1},
 "transform":[{"filter":"datum.p=='co'"}],
 "encoding":{"x":{"field":"t","type":"quantitative","scale":{"domain":[0,450],"nice":false},"axis":{"values":[0,100,200,300,400],"labels":false,"title":null}},
  "y":{"field":"v","type":"quantitative","scale":{"domain":[-10,100],"nice":false,"zero":false},"axis":{"values":[0,30,60,90],"title":null}}},
 "layer":[
  {"transform":[{"filter":"datum.s!='20'"}],"mark":{"type":"line","color":"black","strokeWidth":1.8},
   "encoding":{"detail":{"field":"s"},"strokeDash":{"field":"s","type":"nominal","scale":{"domain":["10","15","20"],"range":[[1,0],[6,4],[1.5,5,1.5,25]]}}}},
  {"transform":[{"filter":"datum.s=='20'"}],"mark":{"type":"point","filled":true,"color":"black","size":6,"opacity":1}}
 ]},
{"width":298,"height":267,"title":{"text":"CO\u2082 (%)","dx":-6,"offset":-9},
 "transform":[{"filter":"datum.p=='co2'"}],
 "encoding":{"x":{"field":"t","type":"quantitative","scale":{"domain":[0,450],"nice":false},"axis":{"values":[0,100,200,300,400],"title":null}},
  "y":{"field":"v","type":"quantitative","scale":{"domain":[-0.05,0.55],"nice":false,"zero":false},"axis":{"values":[0,0.2,0.4],"format":".1f","title":null}}},
 "layer":[
  {"transform":[{"filter":"datum.s!='20'"}],"mark":{"type":"line","color":"black","strokeWidth":1.8},
   "encoding":{"detail":{"field":"s"},"strokeDash":{"field":"s","type":"nominal","scale":{"domain":["10","15","20"],"range":[[1,0],[6,4],[1.5,5,1.5,25]]}}}},
  {"transform":[{"filter":"datum.s=='20'"}],"mark":{"type":"point","filled":true,"color":"black","size":6,"opacity":1}}
 ]},
{"width":298,"height":267,"title":{"text":"Optical density (1/m)","dx":19,"offset":-9},
 "transform":[{"filter":"datum.p=='od'"}],
 "encoding":{"x":{"field":"t","type":"quantitative","scale":{"domain":[0,450],"nice":false},"axis":{"values":[0,100,200,300,400],"title":"time (s)"}},
  "y":{"field":"v","type":"quantitative","scale":{"domain":[-0.5,8.9],"nice":false,"zero":false},"axis":{"values":[0,2,4,6,8],"title":null}}},
 "layer":[
  {"transform":[{"filter":"datum.s!='20'"}],"mark":{"type":"line","color":"black","strokeWidth":1.8},
   "encoding":{"detail":{"field":"s"},"strokeDash":{"field":"s","type":"nominal","scale":{"domain":["10","15","20"],"range":[[1,0],[6,4],[1.5,5,1.5,25]]}}}},
  {"transform":[{"filter":"datum.s=='20'"}],"mark":{"type":"point","filled":true,"color":"black","size":6,"opacity":1}}
 ]},
{"width":298,"height":267,"title":{"text":"Flue gas temperarure (\u00b0C)","dx":19,"offset":-9},
 "transform":[{"filter":"datum.p=='fg'"}],
 "encoding":{"x":{"field":"t","type":"quantitative","scale":{"domain":[0,450],"nice":false},"axis":{"values":[0,100,200,300,400],"title":null}},
  "y":{"field":"v","type":"quantitative","scale":{"domain":[0,110],"nice":false,"zero":false},"axis":{"values":[0,30,60,90],"title":null}}},
 "layer":[
  {"transform":[{"filter":"datum.s!='20'"}],"mark":{"type":"line","color":"black","strokeWidth":1.8},
   "encoding":{"detail":{"field":"s"},"strokeDash":{"field":"s","type":"nominal","scale":{"domain":["10","15","20"],"range":[[1,0],[6,4],[1.5,5,1.5,25]]}}}},
  {"transform":[{"filter":"datum.s=='20'"}],"mark":{"type":"point","filled":true,"color":"black","size":6,"opacity":1}}
 ]}
],
"config":{
 "view":{"stroke":null},
 "font":"DejaVu Sans",
 "axis":{"domainColor":"black","domainWidth":1.3,"tickColor":"black","tickWidth":1.2,"tickSize":4,"labelColor":"black","labelFontSize":21,"labelFont":"DejaVu Sans","grid":false,"titleFontSize":21,"titleFont":"DejaVu Sans","titleFontWeight":"normal","titleColor":"black","titlePadding":18},
 "axisX":{"labelPadding":2},
 "axisY":{"labelPadding":5},
 "title":{"fontSize":22,"fontWeight":"normal","color":"black","font":"DejaVu Sans","anchor":"middle"},
 "legend":{"symbolType":"stroke","symbolSize":4624,"symbolStrokeWidth":1.8,"symbolStrokeColor":"black","labelFontSize":22,"labelFont":"DejaVu Sans","labelColor":"black","titleFontSize":21,"titleFont":"DejaVu Sans","titleFontWeight":"normal","titleColor":"black","titleLineHeight":42,"titlePadding":17,"rowPadding":2,"clipHeight":33,"labelOffset":6,"titleLimit":300}
}
}
